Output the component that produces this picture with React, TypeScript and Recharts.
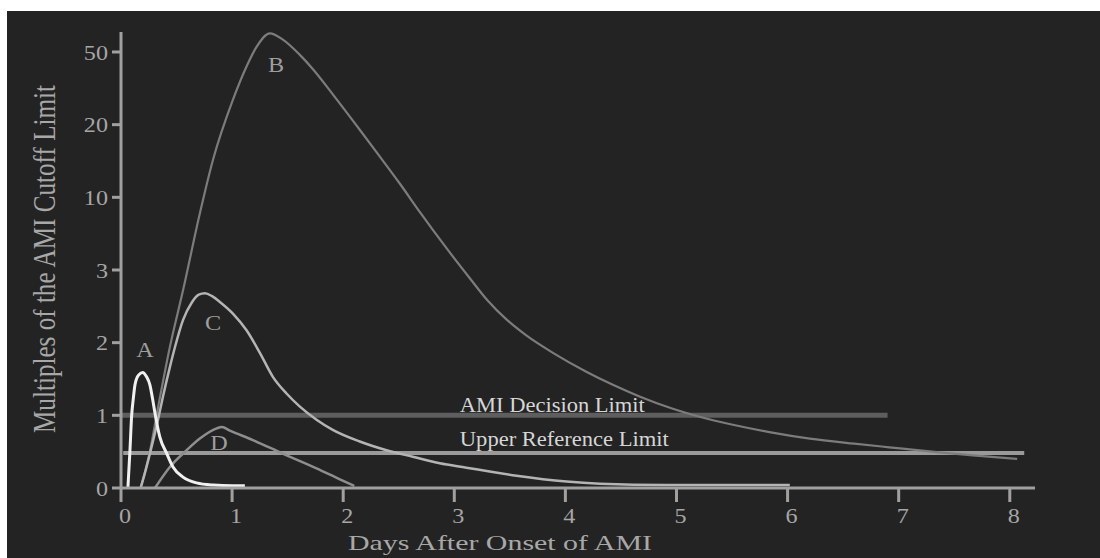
import React from 'react';
import { LineChart, Line, XAxis, YAxis, ReferenceLine, ReferenceDot, Label } from 'recharts';

// ---- axis definitions ----
// The y axis is piecewise: successive tick values are equally spaced.
const yTickValues = [0, 1, 2, 3, 10, 20, 50];
const xTickValues = [0, 1, 2, 3, 4, 5, 6, 7, 8];
const xAxisMaxDay = 8.227;
const yAxisTopValue = 58.25;

// ---- curve A ----
const curveADays = [0.062, 0.08, 0.096, 0.11, 0.126, 0.156, 0.195, 0.23, 0.26, 0.285, 0.306, 0.35, 0.41, 0.468, 0.558, 0.68, 0.83, 1.0, 1.115];
const curveAValues = [0, 0.5, 1.0, 1.22, 1.42, 1.55, 1.59, 1.53, 1.42, 1.22, 1.03, 0.7, 0.48, 0.29, 0.15, 0.07, 0.04, 0.03, 0.03];

// ---- curve B ----
const curveBDays = [0.175, 0.26, 0.324, 0.44, 0.56, 0.71, 0.827, 1.007, 1.13, 1.22, 1.34, 1.457, 1.61, 1.73, 1.91, 2.149, 2.33, 2.509, 2.689, 2.93, 3.138, 3.3, 3.469, 3.648, 3.888, 4.188, 4.427, 4.667, 4.967, 5.207, 5.507, 5.836, 6.2, 6.6, 6.915, 7.365, 7.665, 8.067];
const curveBValues = [0, 0.5, 1.03, 1.94, 2.73, 8.46, 15.1, 30.2, 44.0, 52.1, 57.7, 55.1, 48.8, 42.8, 32.3, 19.3, 15.6, 11.9, 8.6, 5.1, 2.89, 2.58, 2.32, 2.1, 1.86, 1.6, 1.42, 1.26, 1.09, 0.98, 0.87, 0.77, 0.68, 0.61, 0.56, 0.49, 0.45, 0.4];

// ---- curve C ----
const curveCDays = [0.177, 0.216, 0.276, 0.333, 0.378, 0.441, 0.486, 0.558, 0.636, 0.7, 0.755, 0.82, 0.89, 1.007, 1.13, 1.25, 1.367, 1.49, 1.61, 1.76, 1.906, 2.149, 2.39, 2.626, 2.869, 3.109, 3.345, 3.56, 4.01, 4.31, 4.91, 6.02];
const curveCValues = [0, 0.21, 0.57, 0.94, 1.26, 1.67, 1.94, 2.31, 2.55, 2.66, 2.68, 2.64, 2.56, 2.4, 2.17, 1.86, 1.53, 1.3, 1.12, 0.94, 0.8, 0.64, 0.52, 0.43, 0.34, 0.28, 0.22, 0.17, 0.09, 0.06, 0.04, 0.04];

// ---- curve D ----
const curveDDays = [0.306, 0.44, 0.591, 0.71, 0.861, 0.908, 0.98, 1.187, 1.46, 1.76, 1.97, 2.1];
const curveDValues = [0, 0.29, 0.52, 0.68, 0.82, 0.84, 0.79, 0.66, 0.47, 0.27, 0.12, 0.03];

// ---- limit lines ----
const decisionLimitValue = 1;
const decisionLimitDays = [0, 6.9];
const decisionLimitText = 'AMI Decision Limit';
const upperRefLimitValue = 0.48;
const upperRefLimitDays = [0.02, 8.13];
const upperRefLimitText = 'Upper Reference Limit';
const limitLabelDay = 3.05;
const decisionLabelValue = 1.046;
const upperRefLabelValue = 0.578;

// ---- curve letters ----
const curveLetters = ['A', 'B', 'C', 'D'];
const curveLetterDays = [0.216, 1.395, 0.828, 0.882];
const curveLetterValues = [1.8, 41.7, 2.17, 0.52];

const xAxisTitle = 'Days After Onset of AMI';
const yAxisTitle = 'Multiples of the AMI Cutoff Limit';

const FONT = "'Liberation Serif', 'Times New Roman', serif";

function toPos(v: number): number {
  const t = yTickValues;
  if (v <= t[0]) return 0;
  for (let i = 1; i < t.length; i++) {
    if (v <= t[i]) return i - 1 + (v - t[i - 1]) / (t[i] - t[i - 1]);
  }
  const n = t.length - 1;
  return n + (v - t[n]) / (t[n] - t[n - 1]);
}

const build = (days: number[], values: number[]) =>
  days.map((d, i) => ({ day: d, pos: toPos(values[i]) }));

const dataA = build(curveADays, curveAValues);
const dataB = build(curveBDays, curveBValues);
const dataC = build(curveCDays, curveCValues);
const dataD = build(curveDDays, curveDValues);

const yTickPositions = yTickValues.map((_, i) => i);

const YTick = (props: any) => {
  const { x, y, payload } = props;
  return (
    <g transform={`translate(${x},${y})`}>
      <text x={0} y={0} dy="0.36em" textAnchor="end" transform="scale(1.15,1)" fill="#a6a6a6" fontFamily={FONT} fontSize={21}>
        {yTickValues[payload.value]}
      </text>
    </g>
  );
};

const XTick = (props: any) => {
  const { x, y, payload } = props;
  return (
    <g transform={`translate(${x + 4},${y})`}>
      <text x={0} y={0} dy="0.71em" textAnchor="middle" transform="scale(1.15,1)" fill="#a6a6a6" fontFamily={FONT} fontSize={21}>
        {payload.value}
      </text>
    </g>
  );
};

const limitLabel = (text: string, len: number) => (props: any) => {
  const vb = props.viewBox || {};
  return (
    <text x={vb.x} y={vb.y} textAnchor="start" fill="#d6d6d6" fontFamily={FONT} fontSize={20} textLength={len} lengthAdjust="spacingAndGlyphs">
      {text}
    </text>
  );
};

const letterLabel = (text: string) => (props: any) => {
  const vb = props.viewBox || {};
  return (
    <text x={vb.x} y={vb.y} textAnchor="middle" fill="#9e9e9e" fontFamily={FONT} fontSize={22} transform={`translate(${vb.x},0) scale(1.1,1) translate(${-vb.x},0)`}>
      {text}
    </text>
  );
};

const XTitle = (props: any) => {
  const vb = props.viewBox || {};
  return (
    <text x={vb.x + 227} y={vb.y + 62} textAnchor="start" fill="#a8a8a8" fontFamily={FONT} fontSize={22} textLength={304} lengthAdjust="spacingAndGlyphs">
      {xAxisTitle}
    </text>
  );
};

const YTitle = (props: any) => {
  const vb = props.viewBox || {};
  const cx = vb.x + 48;
  const cy = vb.y + vb.height / 2 - 1;
  return (
    <text x={0} y={0} textAnchor="middle" fill="#a8a8a8" fontFamily={FONT} fontSize={25} textLength={348} lengthAdjust="spacingAndGlyphs" transform={`translate(${cx},${cy}) scale(1.25,1) rotate(-90)`}>
      {yAxisTitle}
    </text>
  );
};

const axisStroke = { stroke: '#a0a0a0', strokeWidth: 3 };

export default function App() {
  return (
    <div style={{ position: 'absolute', left: 0, top: 0, width: 1100, height: 558, background: '#ffffff' }}>
      <div style={{ position: 'absolute', left: 7, top: 11, width: 1093, height: 547, background: '#232323' }}>
        <LineChart width={1093} height={547} margin={{ top: 21, right: 65, bottom: 0, left: 0 }}>
          <XAxis
            type="number"
            dataKey="day"
            domain={[0, xAxisMaxDay]}
            ticks={xTickValues}
            interval={0}
            allowDataOverflow
            height={70}
            tickSize={14}
            tickMargin={6}
            axisLine={axisStroke}
            tickLine={axisStroke}
            tick={<XTick />}
          >
            <Label content={<XTitle />} />
          </XAxis>
          <YAxis
            type="number"
            dataKey="pos"
            domain={[0, toPos(yAxisTopValue)]}
            ticks={yTickPositions}
            interval={0}
            allowDataOverflow
            width={114}
            tickSize={9}
            tickMargin={4}
            axisLine={axisStroke}
            tickLine={axisStroke}
            tick={<YTick />}
          >
            <Label content={<YTitle />} />
          </YAxis>
          <ReferenceLine
            segment={[{ x: decisionLimitDays[0], y: toPos(decisionLimitValue) }, { x: decisionLimitDays[1], y: toPos(decisionLimitValue) }]}
            stroke="#5e5e5e"
            strokeWidth={5}
          />
          <ReferenceLine
            segment={[{ x: upperRefLimitDays[0], y: toPos(upperRefLimitValue) }, { x: upperRefLimitDays[1], y: toPos(upperRefLimitValue) }]}
            stroke="#9a9a9a"
            strokeWidth={4}
          />
          <Line data={dataB} dataKey="pos" type="monotone" dot={false} stroke="#7c7c7c" strokeWidth={2.2} isAnimationActive={false} />
          <Line data={dataD} dataKey="pos" type="monotone" dot={false} stroke="#8e8e8e" strokeWidth={2.5} isAnimationActive={false} />
          <Line data={dataC} dataKey="pos" type="monotone" dot={false} stroke="#b4b4b4" strokeWidth={2.5} isAnimationActive={false} />
          <Line data={dataA} dataKey="pos" type="monotone" dot={false} stroke="#f0f0f0" strokeWidth={3} isAnimationActive={false} />
          <ReferenceDot x={limitLabelDay} y={toPos(decisionLabelValue)} r={0} fill="none" stroke="none" label={limitLabel(decisionLimitText, 185)} />
          <ReferenceDot x={limitLabelDay} y={toPos(upperRefLabelValue)} r={0} fill="none" stroke="none" label={limitLabel(upperRefLimitText, 209)} />
          {curveLetters.map((l, i) => (
            <ReferenceDot key={l} x={curveLetterDays[i]} y={toPos(curveLetterValues[i])} r={0} fill="none" stroke="none" label={letterLabel(l)} />
          ))}
        </LineChart>
      </div>
    </div>
  );
}
